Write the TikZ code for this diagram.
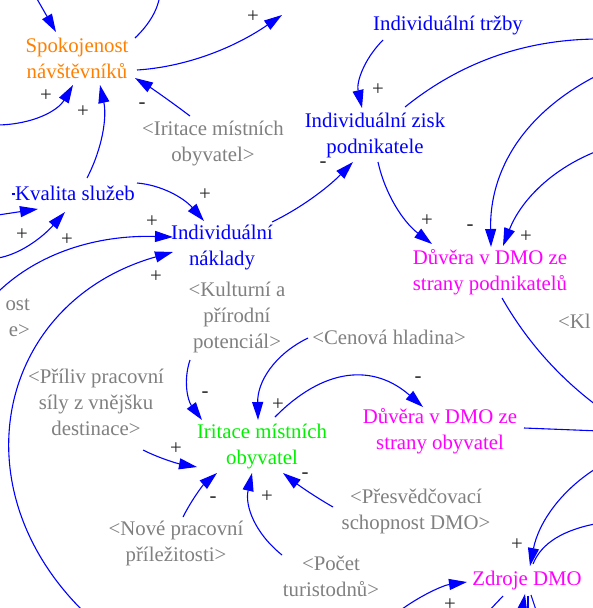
\documentclass[tikz,border=0pt]{standalone}
\usepackage{fontspec}
\setmainfont{Liberation Serif}
\usetikzlibrary{arrows.meta}

\definecolor{vblue}{RGB}{0,0,255}
\definecolor{vorange}{RGB}{255,128,0}
\definecolor{vgray}{RGB}{128,128,128}
\definecolor{vgreen}{RGB}{0,240,0}
\definecolor{vmag}{RGB}{255,0,255}

\begin{document}
\begin{tikzpicture}[x=1pt,y=-1pt,
  var/.style={align=center,inner sep=0pt,font=\fontsize{20.8}{26}\selectfont},
  pol/.style={inner sep=0pt,font=\fontsize{20.8}{24}\selectfont,text=black!85},
  wire/.style={draw=vblue,line width=1.1pt},
  arr/.style={wire,-{Triangle[length=18pt,width=11pt]}}]

\useasboundingbox (0,0) rectangle (593,608);
\fill[white] (0,0) rectangle (593,608);
\clip (0,0) rectangle (593,608);

% variables
\node[var,text=vorange] (spok) at (77,60) {\strut Spokojenost\\návštěvníků\strut};
\node[var,text=vgray] (irit2) at (213,143) {\strut<Iritace místních\\obyvatel>\strut};
\node[var,text=vblue] (kval) at (75,195) {\strut Kvalita služeb};
\node[var,text=vblue] (trzby) at (448,25) {\strut Individuální tržby};
\node[var,text=vblue] (zisk) at (375,135) {\strut Individuální zisk\\podnikatele\strut};
\node[var,text=vblue] (nakl) at (222,247) {\strut Individuální\\náklady\strut};
\node[var,text=vgray] (kult) at (237,317) {\strut<Kulturní a\\přírodní\\potenciál>\strut};
\node[var,text=vgray] (cena) at (389,339) {\strut<Cenová hladina>};
\node[var,text=vmag] (dpod) at (490,272) {\strut Důvěra v DMO ze\\strany podnikatelů\strut};
\node[var,text=vgray,anchor=west] (kl) at (558,323) {\strut<Kl};
\node[var,text=vgray] (pril) at (96,404) {\strut<Příliv pracovní\\síly z vnějšku\\destinace>\strut};
\node[var,text=vgray,align=right,anchor=east] (ost) at (30,318) {\strut ost\\e>\strut};
\node[var,text=vgreen] (irit) at (262,446) {\strut Iritace místních\\obyvatel\strut};
\node[var,text=vmag] (dob) at (440,431) {\strut Důvěra v DMO ze\\strany obyvatel\strut};
\node[var,text=vgray] (pres) at (416,511) {\strut<Přesvědčovací\\schopnost DMO>\strut};
\node[var,text=vgray] (nove) at (176,543) {\strut<Nové pracovní\\příležitosti>\strut};
\node[var,text=vgray] (pocet) at (331,578) {\strut<Počet\\turistodnů>\strut};
\node[var,text=vmag] (zdroje) at (527,580) {\strut Zdroje DMO};

% loose ends of links leaving the view
\coordinate (f1) at (33,-8);
\coordinate (f2) at (160,-5);
\coordinate (f3) at (282,15);
\coordinate (f4) at (-2,125);
\coordinate (f8) at (-2,215);
\coordinate (f9) at (-2,258);
\coordinate (f10) at (-2,292);
\coordinate (f11) at (82,610);
\coordinate (f14) at (600,39);
\coordinate (f15) at (600,74);
\coordinate (f16) at (600,150);
\coordinate (f20) at (600,408);
\coordinate (f21) at (600,431);
\coordinate (f22) at (600,466);
\coordinate (f23) at (600,523);
\coordinate (f24) at (398,612);
\coordinate (f25a) at (486,614);
\coordinate (f25b) at (521,616);
\coordinate (f25c) at (528,616);
\coordinate (f25d) at (538,616);

% links
\draw[arr] (f1) -- ([shift={(-21,-28)}]spok.center);
\draw[wire] ([shift={(58,-22)}]spok.center) .. controls +(14.3,-13.7) and +(-2.3,15) .. (f2);
\draw[arr] ([shift={(60,10)}]spok.center) .. controls +(47.7,-3) and +(-49,33.7) .. (f3);
\draw[arr] (f4) .. controls +(34.7,-0.7) and +(-15.3,26) .. ([shift={(-4,25)}]spok.center);
\draw[arr] ([shift={(12,-17)}]kval.center) .. controls +(15.7,-30.3) and +(7,31.7) .. ([shift={(23,25)}]spok.center);
\draw[arr] ([shift={(-23,-27)}]irit2.center) .. controls +(-20.3,-15.3) and +(16.3,10) .. ([shift={(58,18)}]spok.center);
\draw[wire] ([shift={(-63.5,-1)}]kval.center) -- ++(3,0);
\draw[arr] ([shift={(62,-12)}]kval.center) .. controls +(24.3,2) and +(-20.3,-23.3) .. ([shift={(-18,-26)}]nakl.center);
\draw[arr] (f8) -- ([shift={(-37,14)}]kval.center);
\draw[arr] (f9) .. controls +(20.3,-3.3) and +(-24.3,27.3) .. ([shift={(-10,17)}]kval.center);
\draw[arr] (f10) .. controls +(40.3,-39) and +(-76.3,-2.3) .. ([shift={(-49,-10)}]nakl.center);
\draw[arr] (f11) .. controls +(-126,-126) and +(-173,49) .. ([shift={(-49,5)}]nakl.center);
\draw[arr] ([shift={(50,-25)}]nakl.center) .. controls +(27.7,-13.3) and +(-26.3,26.7) .. ([shift={(-22,27)}]zisk.center);
\draw[arr] ([shift={(-65,15)}]trzby.center) .. controls +(-19.7,20) and +(-5.7,-25.3) .. ([shift={(-13,-27)}]zisk.center);
\draw[wire] ([shift={(30,-28)}]zisk.center) .. controls +(56.3,-45.3) and +(-73.7,0) .. (f14);
\draw[arr] (f15) .. controls +(-74.3,37) and +(-1.7,-78.3) .. ([shift={(1,-25)}]dpod.center);
\draw[arr] (f16) .. controls +(-46.3,17.3) and +(18.3,-46.7) .. ([shift={(13,-26)}]dpod.center);
\draw[arr] ([shift={(3,27)}]zisk.center) .. controls +(7.3,32.7) and +(-28.7,-22) .. ([shift={(-58,-28)}]dpod.center);
\draw[wire] ([shift={(12,26)}]dpod.center) .. controls +(24.7,43.3) and +(-40.7,-30) .. (f20);
\draw[wire] ([shift={(84,-3)}]dob.center) -- (f21);
\draw[arr] (f22) .. controls +(-38,22.7) and +(8.7,-44) .. ([shift={(3,-14)}]zdroje.center);
\draw[wire] ([shift={(6,-16)}]zdroje.center) .. controls +(8.3,-21) and +(-36.3,6.3) .. (f23);
\draw[arr] (f24) .. controls +(22.3,-16.7) and +(-23.7,3.3) .. ([shift={(-60,2)}]zdroje.center);
\draw[wire] ([shift={(-24,16)}]zdroje.center) -- (f25a);
\draw[arr] (f25b) -- ([shift={(-2,14)}]zdroje.center);
\draw[wire] ([shift={(1,16)}]zdroje.center) -- (f25c);
\draw[wire] ([shift={(4,15)}]zdroje.center) -- (f25d);
\draw[arr] ([shift={(-47,43)}]kult.center) .. controls +(-6.7,20) and +(-14.7,-20) .. ([shift={(-60,-26)}]irit.center);
\draw[arr] ([shift={(-81,-1)}]cena.center) .. controls +(-34,16.7) and +(-0.7,-38) .. ([shift={(-4,-26)}]irit.center);
\draw[arr] ([shift={(13,-29)}]irit.center) .. controls +(49.3,-50) and +(-49.3,-43.3) .. ([shift={(-17,-24)}]dob.center);
\draw[arr] ([shift={(47,46)}]pril.center) .. controls +(15.3,7.7) and +(-20.7,-3.7) .. ([shift={(-65,21)}]irit.center);
\draw[arr] ([shift={(7,-26)}]nove.center) .. controls +(8.7,-17.3) and +(-14,12) .. ([shift={(-45,27)}]irit.center);
\draw[arr] ([shift={(-49,-23)}]pocet.center) .. controls +(-27.3,-22) and +(-7.3,32.7) .. ([shift={(-10,27)}]irit.center);
\draw[arr] ([shift={(-83,-4)}]pres.center) .. controls +(-15.3,-8.7) and +(18,14) .. ([shift={(21,27)}]irit.center);

% link polarities
\node[pol] (s1) at (253,17) {+};
\node[pol] (s2) at (46,96) {+};
\node[pol] (s3) at (83,112) {+};
\node[pol] (s4) at (142,106) {-};
\node[pol] (s5) at (205,195) {+};
\node[pol] (s6) at (22,235) {+};
\node[pol] (s7) at (67,240) {+};
\node[pol] (s8) at (152,222) {+};
\node[pol] (s9) at (156,277) {+};
\node[pol] (s10) at (323,165) {-};
\node[pol] (s11) at (378,90) {+};
\node[pol] (s12) at (470,228) {-};
\node[pol] (s13) at (526,237) {+};
\node[pol] (s14) at (427,221) {+};
\node[pol] (s15) at (517,545) {+};
\node[pol] (s16) at (450,605) {+};
\node[pol] (s17) at (205,395) {-};
\node[pol] (s18) at (278,405) {+};
\node[pol] (s19) at (418,380) {-};
\node[pol] (s20) at (176,449) {+};
\node[pol] (s21) at (213,500) {-};
\node[pol] (s22) at (267,497) {+};
\node[pol] (s23) at (305,476) {-};

\end{tikzpicture}
\end{document}
